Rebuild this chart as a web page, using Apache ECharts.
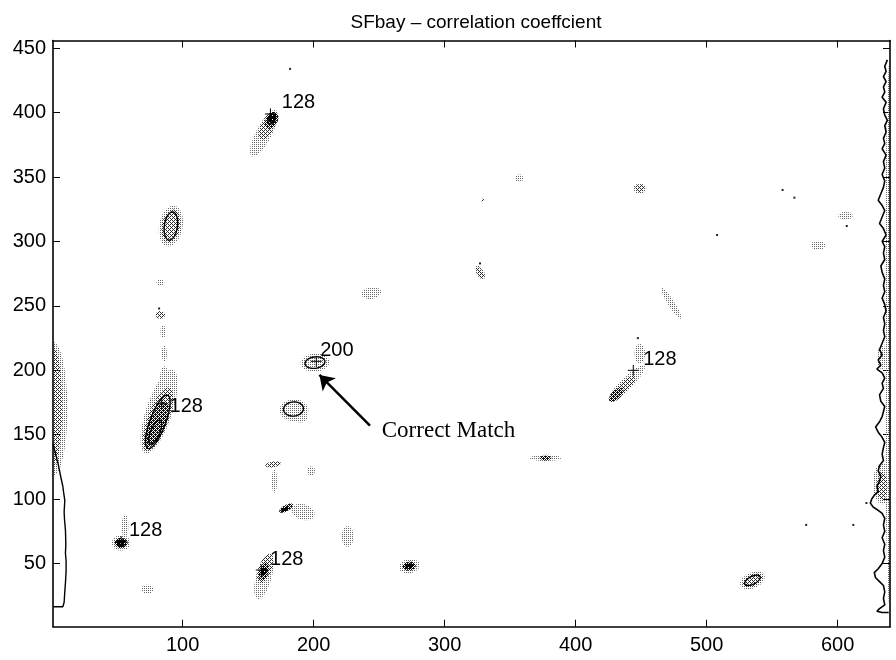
<!DOCTYPE html>
<html>
<head>
<meta charset="utf-8">
<script src="https://cdn.jsdelivr.net/npm/echarts@6/dist/echarts.min.js"></script>
<style>
  html, body { margin: 0; padding: 0; background: #fff; }
  #chart { width: 896px; height: 660px; }
</style>
</head>
<body>
<div id="chart"></div>
<script>
// Axis ticks
const xTicks = [100, 200, 300, 400, 500, 600];
const yTicks = [50, 100, 150, 200, 250, 300, 350, 400, 450];

// Stippled correlation regions: [centerX, centerY, radiusAlong, radiusAcross, angleDeg, shade 1..4]
const stippleBlobs = [
  [640, 228, 4, 214, 0, 1],
  [1, 170, 11, 52, 0, 1],
  [162, 384, 20, 6, 63, 1],
  [91, 312, 16, 9, 80, 1],
  [83, 268, 3, 2.5, 0, 1],
  [85, 230, 2, 5, 0, 1],
  [86, 213, 2, 6, 0, 1],
  [86, 192, 3.5, 11, 0, 1],
  [82, 168, 34, 10, 72, 1],
  [56, 79, 2.5, 9, 0, 1],
  [53, 66, 7, 6, 0, 1],
  [73, 30, 4.5, 3.5, 0, 1],
  [162, 40, 18, 6, 75, 1],
  [201, 206, 11, 7, 5, 1],
  [185, 169, 11, 8.5, 0, 1],
  [190, 163, 5, 3.5, 0, 1],
  [170, 114, 2, 9, 0, 1],
  [198, 122, 3, 3.5, 0, 1],
  [192, 90, 9, 6, -20, 1],
  [226, 71, 4.5, 8, 0, 1],
  [273, 48, 8, 5.5, 10, 1],
  [377, 132, 12, 2.4, 0, 1],
  [244, 260, 7.5, 4.5, 10, 1],
  [357, 349, 3, 3, 0, 1],
  [473, 252, 14, 2.5, -58, 1],
  [449, 213, 4, 7.5, 0, 1],
  [439, 190, 19, 4.5, 45, 1],
  [606, 320, 5.5, 3, 0, 1],
  [585, 297, 5.5, 3.5, 0, 1],
  [535, 37, 10, 6, 25, 1],
  [634, 112, 7, 16, 0, 1],
  [634, 210, 4, 9, 0, 1],
  [449, 341, 5, 4, 0, 1],
  [327, 276, 6, 3, -60, 1],

  [165, 390, 12, 5, 63, 2],
  [91, 312, 13, 7, 80, 2],
  [83, 243, 3.5, 3, 0, 2],
  [81, 162, 26, 8, 70, 2],
  [163, 46, 12, 5, 70, 2],
  [169, 127, 6, 2.2, 10, 2],
  [449, 341, 3.5, 3, 0, 2],
  [327, 276, 5, 2.2, -60, 2],
  [436, 186, 13, 4, 45, 2],
  [1, 172, 7, 46, 0, 2],
  [634, 110, 4, 11, 0, 2],
  [535, 37, 8, 4.5, 25, 2],
  [329, 332, 1.2, 1.2, 0, 2],

  [168, 394, 7, 4.5, 63, 3],
  [80, 158, 19, 6, 68, 3],
  [53, 66, 5, 4, 0, 3],
  [162, 44, 7, 3.5, 70, 3],
  [273, 48, 5, 3.5, 10, 3],
  [179, 93, 6, 2.4, 30, 3],
  [377, 132, 4.5, 1.8, 0, 3],
  [431, 181, 7, 3.5, 45, 3],

  [168, 396, 3.5, 3, 63, 4],
  [53, 66, 3.5, 3, 0, 4],
  [273, 48, 3, 2.2, 10, 4],
  [162, 44, 3.5, 2.2, 70, 4],
  [178, 92, 3, 1.5, 30, 4]
];

// Closed contour lines: [centerX, centerY, radiusAlong, radiusAcross, angleDeg]
const contourLoops = [
  [91, 312, 11, 5, 82],
  [201, 206, 7.6, 4.4, 8],
  [184.6, 170, 7.6, 5.5, 5],
  [81, 160, 22, 6, 70],
  [79, 152, 10, 3.5, 68],
  [535, 37, 6.5, 3, 28],
  [168, 395, 4, 2.5, 63]
];

// Contours running along the image borders
const leftEdgeLine = [
  [1, 16.5], [8.5, 16.5], [9.5, 20], [10, 28], [10.5, 35], [11, 44], [11, 52], [10.5, 58],
  [10.8, 65], [10.5, 76], [9.8, 84], [9.5, 90], [10, 99], [9, 106], [8.5, 110], [7, 117],
  [5, 127], [3, 135], [1, 143]
];
const rightEdgeLine = [
  [638, 441], [636, 436], [637, 432], [635, 428], [637, 424], [635, 420], [636, 416],
  [634, 412], [637, 408], [635, 403], [636, 398], [638, 394], [636, 390], [637, 385],
  [635, 380], [636, 376], [634, 372], [637, 367], [635, 362], [636, 357], [634, 352],
  [636, 347], [635, 342], [633, 337], [631, 332], [634, 328], [636, 324], [634, 319],
  [632, 314], [635, 310], [637, 305], [634, 300], [636, 296], [635, 291], [636, 286],
  [633, 281], [634, 276], [636, 271], [635, 266], [636, 261], [634, 256], [636, 251],
  [637, 246], [635, 241], [636, 236], [635, 231], [636, 226], [634, 221], [632, 216],
  [634, 212], [631, 208], [633, 204], [630, 201], [634, 198], [636, 194], [634, 190],
  [635, 186], [632, 181], [633, 176], [636, 172], [635, 168], [634, 164], [632, 160],
  [629, 156], [631, 152], [634, 148], [636, 144], [635, 140], [634, 135], [635, 130],
  [632, 126], [631, 122], [633, 118], [632, 114], [630, 110], [631, 106], [628, 103],
  [626, 100], [625, 97], [627, 94], [630, 92], [634, 89], [636, 85], [635, 80],
  [636, 75], [634, 70], [636, 65], [635, 60], [636, 55], [634, 50], [631, 46],
  [628, 43], [629, 39], [632, 36], [635, 33], [636, 28], [635, 23], [636, 18],
  [632, 15], [630, 13], [634, 12], [639, 12]
];

// Isolated specks
const specks = [
  [182, 434], [567, 334], [558, 340], [607, 312], [508, 305], [576, 80],
  [612, 80], [622, 97], [447.5, 225], [82, 248], [327, 283]
];

// Contour level labels: [x, y, text] and their '+' anchors
const labelAnchors = [[167, 399], [202, 207], [444, 200], [84, 174], [160, 45], [53, 67]];
const contourLabels = [
  [175.7, 408, '128'],
  [205, 215.4, '200'],
  [451.6, 208.7, '128'],
  [90, 172, '128'],
  [59, 75.5, '128'],
  [166.7, 53.4, '128']
];

// Annotation arrow and note
const arrowFrom = [243, 157];
const arrowTo = [204.4, 196.4];
const noteText = 'Correct Match';
const notePos = [252, 153];

function makePattern(cells, color) {
  const c = document.createElement('canvas');
  c.width = 4; c.height = 4;
  const g = c.getContext('2d');
  g.fillStyle = color;
  cells.forEach(function (p) { g.fillRect(p[0], p[1], 1, 1); });
  return { image: c, repeat: 'repeat' };
}

const shadePatterns = {
  1: makePattern([[0, 0], [2, 0], [0, 2], [2, 2]], '#666'),
  2: makePattern([[0, 0], [2, 0], [0, 2], [2, 2], [1, 1], [3, 3]], '#2a2a2a'),
  3: makePattern([[0, 0], [2, 0], [1, 1], [3, 1], [0, 2], [2, 2], [1, 3], [3, 3], [1, 0], [3, 2]], '#111'),
  4: makePattern([[0, 0], [1, 0], [2, 0], [3, 0], [0, 1], [1, 1], [2, 1], [0, 2], [1, 2], [2, 2], [3, 2], [1, 3], [2, 3], [3, 3]], '#000')
};

function ellipsePoints(api, cx, cy, ra, rb, angDeg) {
  const a = angDeg * Math.PI / 180;
  const pts = [];
  for (let k = 0; k < 48; k++) {
    const t = k / 48 * 2 * Math.PI;
    const ex = ra * Math.cos(t), ey = rb * Math.sin(t);
    pts.push(api.coord([
      cx + ex * Math.cos(a) - ey * Math.sin(a),
      cy + ex * Math.sin(a) + ey * Math.cos(a)
    ]));
  }
  return pts;
}

const font = 'Liberation Sans, Arial, Helvetica, sans-serif';

const chart = echarts.init(document.getElementById('chart'), null, { renderer: 'canvas' });

function xAxisDef(pos, showLabels) {
  return {
    type: 'value', min: 1, max: 640, position: pos,
    axisLine: { show: true, onZero: false, lineStyle: { color: '#000', width: 1.6 } },
    axisTick: { show: true, inside: true, length: 7, customValues: xTicks, lineStyle: { color: '#000', width: 1 } },
    axisLabel: { show: showLabels, customValues: xTicks, color: '#000', fontSize: 20, fontFamily: font, margin: 9 },
    splitLine: { show: false }
  };
}
function yAxisDef(pos, showLabels) {
  return {
    type: 'value', min: 1, max: 456, position: pos,
    axisLine: { show: true, onZero: false, lineStyle: { color: '#000', width: 1.6 } },
    axisTick: { show: true, inside: true, length: 7, customValues: yTicks, lineStyle: { color: '#000', width: 1 } },
    axisLabel: { show: showLabels, customValues: yTicks, color: '#000', fontSize: 20, fontFamily: font, margin: 7 },
    splitLine: { show: false }
  };
}

chart.setOption({
  animation: false,
  backgroundColor: '#fff',
  title: {
    text: 'SFbay \u2013 correlation coeffcient',
    left: 471, top: 8, textAlign: 'center',
    textStyle: { fontFamily: font, fontSize: 19, fontWeight: 'normal', color: '#000' }
  },
  grid: { left: 53, right: 6, top: 40.5, bottom: 33.3 },
  xAxis: [xAxisDef('bottom', true), xAxisDef('top', false)],
  yAxis: [yAxisDef('left', true), yAxisDef('right', false)],
  series: [
    {
      name: 'stipple', type: 'custom', clip: true,
      data: stippleBlobs,
      renderItem: function (params, api) {
        const d = stippleBlobs[params.dataIndex];
        return {
          type: 'polygon',
          shape: { points: ellipsePoints(api, d[0], d[1], d[2], d[3], d[4]) },
          style: { fill: shadePatterns[d[5]], stroke: null }
        };
      },
      z: 2
    },
    {
      name: 'contours', type: 'custom', clip: true,
      data: contourLoops,
      renderItem: function (params, api) {
        const d = contourLoops[params.dataIndex];
        return {
          type: 'polygon',
          shape: { points: ellipsePoints(api, d[0], d[1], d[2], d[3], d[4]) },
          style: { fill: null, stroke: '#000', lineWidth: 1.4 }
        };
      },
      z: 3
    },
    {
      name: 'leftEdge', type: 'line', data: leftEdgeLine, showSymbol: false,
      lineStyle: { color: '#000', width: 1.4 }, z: 3, silent: true
    },
    {
      name: 'rightEdge', type: 'line', data: rightEdgeLine, showSymbol: false,
      lineStyle: { color: '#000', width: 1.6 }, z: 3, silent: true
    },
    {
      name: 'specks', type: 'scatter', data: specks, symbol: 'rect', symbolSize: 2,
      itemStyle: { color: '#222', opacity: 1 }, z: 3, silent: true
    },
    {
      name: 'anchors', type: 'scatter', data: labelAnchors,
      symbol: 'path://M0,5L10,5M5,0L5,10', symbolSize: 11,
      itemStyle: { color: 'rgba(0,0,0,0)', borderColor: '#000', borderWidth: 1, opacity: 1 }, z: 4, silent: true
    },
    {
      name: 'levels', type: 'scatter', data: contourLabels, symbolSize: 0, z: 5, silent: true,
      itemStyle: { opacity: 1 },
      label: {
        show: true, position: 'right', distance: 0,
        formatter: function (p) { return p.value[2]; },
        color: '#000', fontFamily: font, fontSize: 20
      }
    },
    {
      name: 'arrow', type: 'lines', coordinateSystem: 'cartesian2d',
      data: [{ coords: [arrowFrom, arrowTo] }],
      symbol: ['none', 'arrow'], symbolSize: [11, 14],
      lineStyle: { color: '#000', width: 2.5, opacity: 1 }, z: 5, silent: true
    },
    {
      name: 'note', type: 'scatter', data: [[notePos[0], notePos[1], noteText]], symbolSize: 0, z: 5, silent: true,
      itemStyle: { opacity: 1 },
      label: {
        show: true, position: 'right', distance: 0,
        formatter: function (p) { return p.value[2]; },
        color: '#000', fontFamily: 'Liberation Serif, Times New Roman, serif', fontSize: 23
      }
    }
  ]
});
</script>
</body>
</html>
